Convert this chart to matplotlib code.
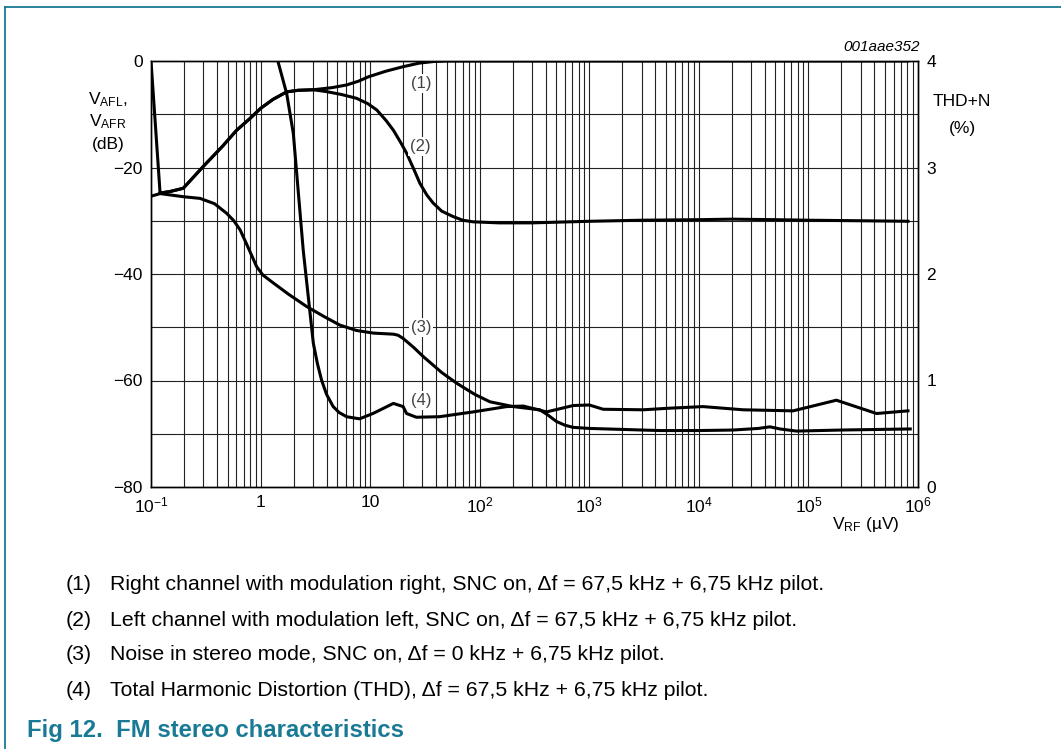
import matplotlib
matplotlib.use("Agg")
import matplotlib.pyplot as plt
from matplotlib.lines import Line2D

plt.rcParams['font.family'] = ['Liberation Sans', 'DejaVu Sans']
plt.rcParams['mathtext.fontset'] = 'custom'
plt.rcParams['mathtext.rm'] = 'Liberation Sans'
plt.rcParams['mathtext.it'] = 'Liberation Sans:italic'

# curve (1): right channel, dB
c1_x = [0.1, 0.121, 0.15, 0.197, 0.30, 0.45, 0.605, 0.8, 1.0, 1.3, 1.73, 2.2, 3.03,
        4.5, 6.1, 7.8, 9.7, 14, 20, 28, 37.7, 50, 8.1e5]
c1_db = [0, -24.8, -24.5, -23.9, -19.8, -16.0, -13.0, -10.8, -8.9, -7.2, -5.8, -5.5, -5.4,
         -5.0, -4.5, -3.8, -2.95, -1.9, -1.07, -0.4, -0.1, 0, 0]

# curve (2): left channel, dB
c2_x = [0.121, 0.15, 0.197, 0.30, 0.45, 0.605, 0.8, 1.0, 1.3, 1.73, 2.2, 3.03,
        4.0, 5.5, 7.5, 9.5, 11.5, 14, 16.3, 19, 21.5, 25, 28.5, 33, 37.7, 45, 57, 70, 87,
        150, 300, 1000, 3000, 1e4, 2e4, 5e4, 1e5, 3e5, 8.1e5]
c2_db = [-24.8, -24.5, -23.9, -19.8, -16.0, -13.0, -10.8, -8.9, -7.2, -5.8, -5.5, -5.4,
         -5.75, -6.3, -7.0, -8.0, -9.2, -11.2, -13.0, -15.3, -17.3, -20.3, -23.0, -25.2, -26.7,
         -28.2, -29.2, -29.9, -30.2, -30.4, -30.4, -30.1, -29.9, -29.8, -29.7, -29.8, -29.9,
         -30.0, -30.1]

# curve (3): noise in stereo mode, dB
c3_x = [0.1, 0.121, 0.2, 0.28, 0.38, 0.49, 0.57, 0.65, 0.75, 0.85, 0.92, 1.05, 1.31, 1.8,
        2.63, 3.8, 5.3, 7.5, 10.7, 16.3, 18, 20, 25, 30.5, 45, 61.5, 90, 124, 202, 354, 420,
        502, 600, 713, 1000, 4400, 1e4, 20600, 35000, 44500, 55000, 77800, 2e5, 8.5e5]
c3_db = [-25.4, -24.9, -25.5, -25.8, -26.8, -28.6, -30.0, -31.7, -34.5, -37.0, -38.6, -40.2,
         -41.7, -43.8, -46.1, -48.0, -49.6, -50.6, -51.1, -51.3, -51.5, -52.1, -53.8, -55.5,
         -58.5, -60.5, -62.6, -64.0, -64.9, -65.5, -66.5, -67.7, -68.4, -68.8, -69.0, -69.4,
         -69.4, -69.3, -69.0, -68.7, -69.1, -69.5, -69.3, -69.1]

# curve (4): THD, percent (right axis)
c4_x = [1.42, 1.73, 1.99, 2.45, 3.03, 3.3, 3.6, 4.0, 4.6, 5.2, 6.1, 8.0, 10.6, 16.3, 20,
        21.5, 26.4, 43, 87, 176, 250, 407, 713, 1000, 1340, 3100, 5400, 10900, 25300, 72500,
        180000, 418000, 810000]
c4_pct = [4.02, 3.695, 3.32, 2.225, 1.35, 1.16, 1.005, 0.87, 0.755, 0.70, 0.66, 0.64, 0.69,
          0.785, 0.755, 0.69, 0.655, 0.66, 0.705, 0.755, 0.76, 0.705, 0.765, 0.77, 0.73,
          0.725, 0.74, 0.755, 0.725, 0.715, 0.815, 0.69, 0.715]

x_ticks = [1e-1, 1, 10, 1e2, 1e3, 1e4, 1e5, 1e6]
x_ticklabels = ['10$^{\\mathregular{-1}}$', '1', '10', '10$^{\\mathregular{2}}$',
                '10$^{\\mathregular{3}}$', '10$^{\\mathregular{4}}$',
                '10$^{\\mathregular{5}}$', '10$^{\\mathregular{6}}$']
y_ticks = [0, -20, -40, -60, -80]
y_ticklabels = ['0', '\u221220', '\u221240', '\u221260', '\u221280']
r_ticks = [0, 1, 2, 3, 4]

labels = ['(1)', '(2)', '(3)', '(4)']
label_db = [-4.3, -16.0, -50.1, -63.7]

legend_lines = [
    'Right channel with modulation right, SNC on, \u0394f = 67,5 kHz + 6,75 kHz pilot.',
    'Left channel with modulation left, SNC on, \u0394f = 67,5 kHz + 6,75 kHz pilot.',
    'Noise in stereo mode, SNC on, \u0394f = 0 kHz + 6,75 kHz pilot.',
    'Total Harmonic Distortion (THD), \u0394f = 67,5 kHz + 6,75 kHz pilot.',
]

teal = '#1a7a96'
W, H = 1061, 749
fig = plt.figure(figsize=(W / 100, H / 100), dpi=100)

# frame lines
fig.add_artist(Line2D([5 / W, 1], [1 - 7 / H, 1 - 7 / H], color=teal, lw=1.3))
fig.add_artist(Line2D([5 / W, 5 / W], [0, 1 - 7 / H], color=teal, lw=1.3))

ax = fig.add_axes([151 / W, 1 - 487 / H, (918 - 151) / W, (487 - 61) / H])
ax.set_xscale('log')
ax.set_xlim(1e-1, 1e6)
ax.set_ylim(-80, 0)

# grid
for dec in range(-1, 6):
    for m in range(1, 10):
        v = m * 10.0 ** dec
        if v > 1e-1:
            ax.axvline(v, color='#222222', lw=0.8, zorder=1)
for yv in range(-70, 0, 10):
    ax.axhline(yv, color='#222222', lw=0.8, zorder=1)

ax.plot(c1_x, c1_db, color='black', lw=2.2, zorder=3)
ax.plot(c2_x, c2_db, color='black', lw=2.2, zorder=3)
ax.plot(c3_x, c3_db, color='black', lw=2.2, zorder=3)

ax2 = ax.twinx()
ax2.set_ylim(0, 4)
ax2.plot(c4_x, c4_pct, color='black', lw=2.2, zorder=3)

for lab, yv in zip(labels, label_db):
    ax.text(29, yv, lab, ha='center', va='center', fontsize=12, color='#444444', zorder=5,
            bbox=dict(facecolor='white', edgecolor='none', pad=1.5))

ax.set_xticks(x_ticks)
ax.set_xticklabels(x_ticklabels, fontsize=12.5)
ax.xaxis.set_minor_locator(matplotlib.ticker.NullLocator())
ax.set_yticks(y_ticks)
ax.set_yticklabels(y_ticklabels, fontsize=12.5)
ax2.set_yticks(r_ticks)
ax2.set_yticklabels([str(v) for v in r_ticks], fontsize=12.5)
for a in (ax, ax2):
    a.tick_params(length=0, pad=6)
    for s in a.spines.values():
        s.set_linewidth(1.0)

# axis titles
fig.text(108 / W, 1 - 100 / H, 'V$_{\\mathregular{AFL}}$,', ha='center', va='center', fontsize=12.5)
fig.text(108 / W, 1 - 122 / H, 'V$_{\\mathregular{AFR}}$', ha='center', va='center', fontsize=12.5)
fig.text(108 / W, 1 - 144 / H, '(dB)', ha='center', va='center', fontsize=12.5)
fig.text(962 / W, 1 - 102 / H, 'THD+N', ha='center', va='center', fontsize=12.5)
fig.text(962 / W, 1 - 128 / H, '(%)', ha='center', va='center', fontsize=12.5)
fig.text(866 / W, 1 - 524 / H, 'V$_{\\mathregular{RF}}$ (\u00b5V)', ha='center', va='center', fontsize=12.5)
fig.text(920 / W, 1 - 47 / H, '001aae352', ha='right', va='center', fontsize=11, style='italic')

for i, line in enumerate(legend_lines):
    y = 1 - (585 + 35 * i) / H
    fig.text(66 / W, y, '(%d)' % (i + 1), ha='left', va='center', fontsize=15.3)
    fig.text(110 / W, y, line, ha='left', va='center', fontsize=15.3)

fig.text(27 / W, 1 - 730 / H, 'Fig 12.  FM stereo characteristics', ha='left', va='center',
         fontsize=17.2, fontweight='bold', color=teal)

fig.savefig('out.png', dpi=100)
